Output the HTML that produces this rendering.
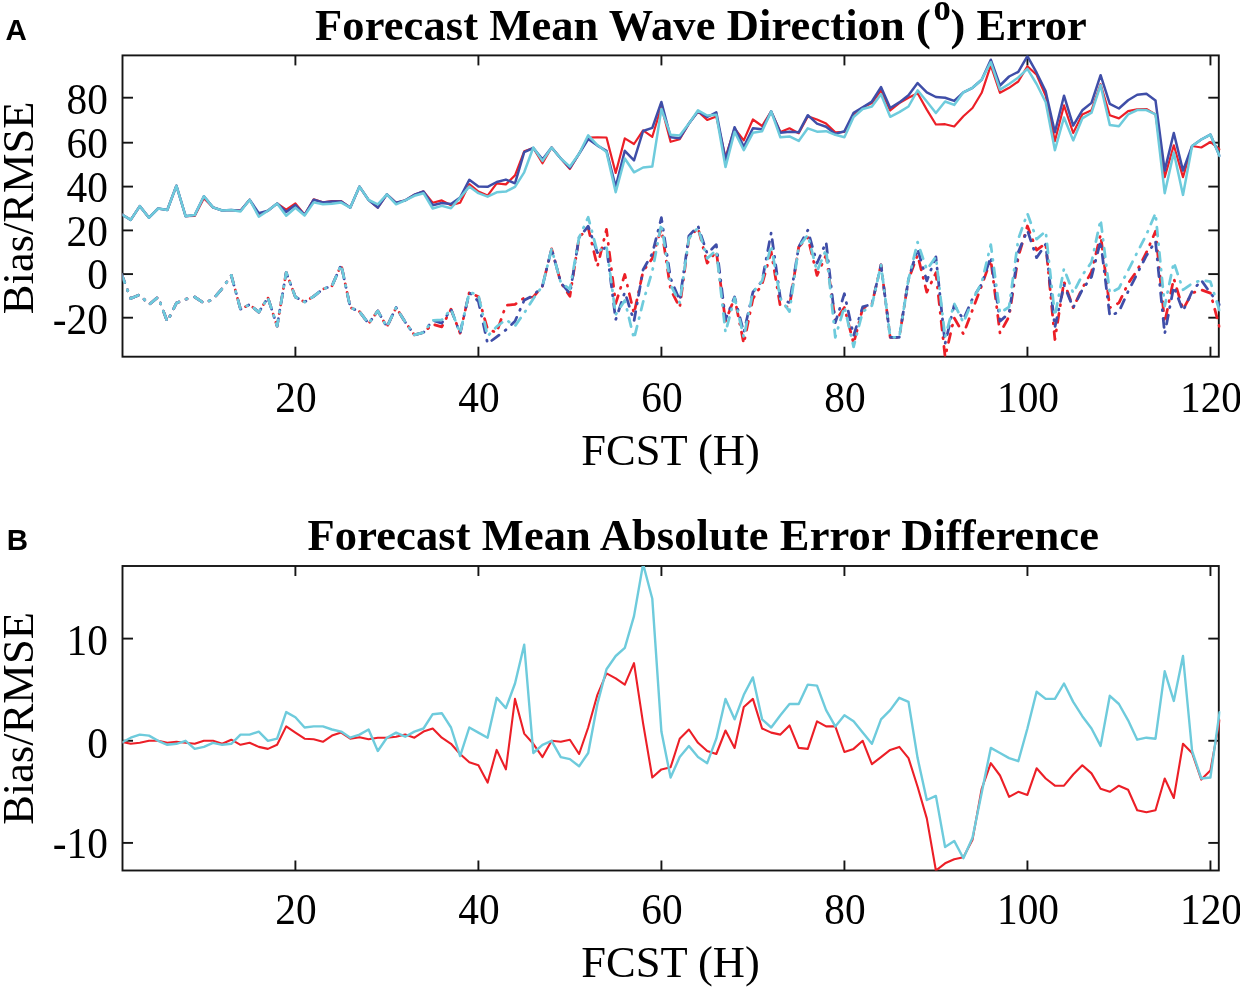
<!DOCTYPE html>
<html><head><meta charset="utf-8"><style>
html,body{margin:0;padding:0;background:#fff;width:1240px;height:988px;overflow:hidden}
svg{position:absolute;left:0;top:0;font-family:"Liberation Serif",serif;will-change:transform}
</style></head><body>
<svg width="1240" height="988" viewBox="0 0 1240 988">
<defs><clipPath id="ca"><rect x="122.5" y="55.4" width="1098" height="301.3"/></clipPath><clipPath id="cb"><rect x="122.5" y="566" width="1098" height="304.5"/></clipPath></defs>
<rect x="122.5" y="55.4" width="1096.3" height="301.3" fill="none" stroke="#151515" stroke-width="1.9"/>
<line x1="295.4" y1="356.7" x2="295.4" y2="346.7" stroke="#151515" stroke-width="1.9"/>
<line x1="295.4" y1="55.4" x2="295.4" y2="65.4" stroke="#151515" stroke-width="1.9"/>
<text transform="translate(296.0,412.4) scale(0.93,1)" font-size="44.5" text-anchor="middle">20</text>
<line x1="478.40999999999997" y1="356.7" x2="478.40999999999997" y2="346.7" stroke="#151515" stroke-width="1.9"/>
<line x1="478.40999999999997" y1="55.4" x2="478.40999999999997" y2="65.4" stroke="#151515" stroke-width="1.9"/>
<text transform="translate(479.0,412.4) scale(0.93,1)" font-size="44.5" text-anchor="middle">40</text>
<line x1="661.42" y1="356.7" x2="661.42" y2="346.7" stroke="#151515" stroke-width="1.9"/>
<line x1="661.42" y1="55.4" x2="661.42" y2="65.4" stroke="#151515" stroke-width="1.9"/>
<text transform="translate(662.0,412.4) scale(0.93,1)" font-size="44.5" text-anchor="middle">60</text>
<line x1="844.43" y1="356.7" x2="844.43" y2="346.7" stroke="#151515" stroke-width="1.9"/>
<line x1="844.43" y1="55.4" x2="844.43" y2="65.4" stroke="#151515" stroke-width="1.9"/>
<text transform="translate(845.0,412.4) scale(0.93,1)" font-size="44.5" text-anchor="middle">80</text>
<line x1="1027.44" y1="356.7" x2="1027.44" y2="346.7" stroke="#151515" stroke-width="1.9"/>
<line x1="1027.44" y1="55.4" x2="1027.44" y2="65.4" stroke="#151515" stroke-width="1.9"/>
<text transform="translate(1028.0,412.4) scale(0.93,1)" font-size="44.5" text-anchor="middle">100</text>
<line x1="1210.4499999999998" y1="356.7" x2="1210.4499999999998" y2="346.7" stroke="#151515" stroke-width="1.9"/>
<line x1="1210.4499999999998" y1="55.4" x2="1210.4499999999998" y2="65.4" stroke="#151515" stroke-width="1.9"/>
<text transform="translate(1211.0,412.4) scale(0.93,1)" font-size="44.5" text-anchor="middle">120</text>
<line x1="122.5" y1="97.7" x2="133.0" y2="97.7" stroke="#151515" stroke-width="1.9"/>
<line x1="1218.8" y1="97.7" x2="1208.3" y2="97.7" stroke="#151515" stroke-width="1.9"/>
<text transform="translate(108,114.3) scale(0.93,1)" font-size="44.5" text-anchor="end">80</text>
<line x1="122.5" y1="142.7" x2="133.0" y2="142.7" stroke="#151515" stroke-width="1.9"/>
<line x1="1218.8" y1="142.7" x2="1208.3" y2="142.7" stroke="#151515" stroke-width="1.9"/>
<text transform="translate(108,157.7) scale(0.93,1)" font-size="44.5" text-anchor="end">60</text>
<line x1="122.5" y1="186.6" x2="133.0" y2="186.6" stroke="#151515" stroke-width="1.9"/>
<line x1="1218.8" y1="186.6" x2="1208.3" y2="186.6" stroke="#151515" stroke-width="1.9"/>
<text transform="translate(108,201.5) scale(0.93,1)" font-size="44.5" text-anchor="end">40</text>
<line x1="122.5" y1="230.4" x2="133.0" y2="230.4" stroke="#151515" stroke-width="1.9"/>
<line x1="1218.8" y1="230.4" x2="1208.3" y2="230.4" stroke="#151515" stroke-width="1.9"/>
<text transform="translate(108,245.5) scale(0.93,1)" font-size="44.5" text-anchor="end">20</text>
<line x1="122.5" y1="274.1" x2="133.0" y2="274.1" stroke="#151515" stroke-width="1.9"/>
<line x1="1218.8" y1="274.1" x2="1208.3" y2="274.1" stroke="#151515" stroke-width="1.9"/>
<text transform="translate(108,288.9) scale(0.93,1)" font-size="44.5" text-anchor="end">0</text>
<line x1="122.5" y1="317.7" x2="133.0" y2="317.7" stroke="#151515" stroke-width="1.9"/>
<line x1="1218.8" y1="317.7" x2="1208.3" y2="317.7" stroke="#151515" stroke-width="1.9"/>
<text transform="translate(108,334) scale(0.93,1)" font-size="44.5" text-anchor="end">-20</text>
<text x="315" y="39.8" font-size="44.5" font-weight="bold" letter-spacing="0.1">Forecast Mean Wave Direction (</text>
<text x="5.6" y="40.2" font-family="Liberation Sans" font-size="29.5" font-weight="bold">A</text>
<text transform="translate(32.9,207.8) rotate(-90)" font-size="44.5" text-anchor="middle">Bias/RMSE</text>
<text x="670.5" y="465" font-size="44.5" text-anchor="middle">FCST (H)</text>
<text transform="translate(933.6,19.5) scale(0.96,1.06)" font-size="36" font-weight="bold">o</text>
<text x="950.5" y="39.8" font-size="44.5" font-weight="bold" letter-spacing="0">) Error</text>
<rect x="122.5" y="566.0" width="1096.3" height="304.5" fill="none" stroke="#151515" stroke-width="1.9"/>
<line x1="295.4" y1="870.5" x2="295.4" y2="860.5" stroke="#151515" stroke-width="1.9"/>
<line x1="295.4" y1="566.0" x2="295.4" y2="576.0" stroke="#151515" stroke-width="1.9"/>
<text transform="translate(296.0,924.4) scale(0.93,1)" font-size="44.5" text-anchor="middle">20</text>
<line x1="478.40999999999997" y1="870.5" x2="478.40999999999997" y2="860.5" stroke="#151515" stroke-width="1.9"/>
<line x1="478.40999999999997" y1="566.0" x2="478.40999999999997" y2="576.0" stroke="#151515" stroke-width="1.9"/>
<text transform="translate(479.0,924.4) scale(0.93,1)" font-size="44.5" text-anchor="middle">40</text>
<line x1="661.42" y1="870.5" x2="661.42" y2="860.5" stroke="#151515" stroke-width="1.9"/>
<line x1="661.42" y1="566.0" x2="661.42" y2="576.0" stroke="#151515" stroke-width="1.9"/>
<text transform="translate(662.0,924.4) scale(0.93,1)" font-size="44.5" text-anchor="middle">60</text>
<line x1="844.43" y1="870.5" x2="844.43" y2="860.5" stroke="#151515" stroke-width="1.9"/>
<line x1="844.43" y1="566.0" x2="844.43" y2="576.0" stroke="#151515" stroke-width="1.9"/>
<text transform="translate(845.0,924.4) scale(0.93,1)" font-size="44.5" text-anchor="middle">80</text>
<line x1="1027.44" y1="870.5" x2="1027.44" y2="860.5" stroke="#151515" stroke-width="1.9"/>
<line x1="1027.44" y1="566.0" x2="1027.44" y2="576.0" stroke="#151515" stroke-width="1.9"/>
<text transform="translate(1028.0,924.4) scale(0.93,1)" font-size="44.5" text-anchor="middle">100</text>
<line x1="1210.4499999999998" y1="870.5" x2="1210.4499999999998" y2="860.5" stroke="#151515" stroke-width="1.9"/>
<line x1="1210.4499999999998" y1="566.0" x2="1210.4499999999998" y2="576.0" stroke="#151515" stroke-width="1.9"/>
<text transform="translate(1211.0,924.4) scale(0.93,1)" font-size="44.5" text-anchor="middle">120</text>
<line x1="122.5" y1="638.6" x2="133.0" y2="638.6" stroke="#151515" stroke-width="1.9"/>
<line x1="1218.8" y1="638.6" x2="1208.3" y2="638.6" stroke="#151515" stroke-width="1.9"/>
<text transform="translate(108,655) scale(0.93,1)" font-size="44.5" text-anchor="end">10</text>
<line x1="122.5" y1="740.75" x2="133.0" y2="740.75" stroke="#151515" stroke-width="1.9"/>
<line x1="1218.8" y1="740.75" x2="1208.3" y2="740.75" stroke="#151515" stroke-width="1.9"/>
<text transform="translate(108,757.9) scale(0.93,1)" font-size="44.5" text-anchor="end">0</text>
<line x1="122.5" y1="842.9" x2="133.0" y2="842.9" stroke="#151515" stroke-width="1.9"/>
<line x1="1218.8" y1="842.9" x2="1208.3" y2="842.9" stroke="#151515" stroke-width="1.9"/>
<text transform="translate(108,858.4) scale(0.93,1)" font-size="44.5" text-anchor="end">-10</text>
<text x="307.5" y="550.3" font-size="44.5" font-weight="bold" letter-spacing="0.1">Forecast Mean Absolute Error Difference</text>
<text x="6.7" y="550.2" font-family="Liberation Sans" font-size="29.5" font-weight="bold">B</text>
<text transform="translate(32.9,718.5) rotate(-90)" font-size="44.5" text-anchor="middle">Bias/RMSE</text>
<text x="670.5" y="977" font-size="44.5" text-anchor="middle">FCST (H)</text>
<g clip-path="url(#ca)">
<polyline points="121.5,274.1 130.7,298.5 139.8,294.6 149.0,304.6 158.1,297.0 167.3,321.6 176.4,303.1 185.6,299.2 194.7,297.0 203.9,303.1 213.0,299.2 222.2,288.5 231.3,275.4" fill="none" stroke="#ec1f27" stroke-width="2.75" stroke-linejoin="round" stroke-linecap="round" stroke-dasharray="9.0 7.75 1.0 7.75" stroke-dashoffset="0.00"/>
<polyline points="231.3,275.4 240.5,309.2 249.6,304.6 258.8,312.2 267.9,297.6 277.1,326.2 286.2,272.4 295.4,297.0 304.6,302.0 313.7,296.3 322.9,289.1 332.0,285.9 341.2,264.9 350.3,307.5 359.5,311.6 368.6,323.6 377.8,310.9 386.9,326.9 396.1,307.5 405.2,322.1 414.4,334.9 423.5,332.5 432.7,324.2 441.8,326.9 451.0,309.2 460.1,333.2 469.3,292.4 478.4,296.8 487.6,329.3 496.7,332.5 505.9,305.3 515.0,304.4 524.2,297.9 533.3,297.0 542.5,285.9 551.6,248.8 560.8,282.6 569.9,296.3 579.1,237.4 588.2,227.8 597.4,266.5 606.5,229.3 615.7,303.5 624.8,274.5 634.0,313.6 643.1,271.3 652.3,258.4 661.4,228.2 670.6,289.4 679.7,307.5 688.9,238.3 698.0,227.8 707.2,263.2 716.3,251.2 725.5,321.2 734.6,297.9 743.8,343.6 752.9,298.7 762.1,284.1 771.2,251.8 780.4,306.8 789.5,306.8 798.7,247.0 807.8,237.4 817.0,275.4 826.1,255.1 835.3,321.2 844.4,307.5 853.6,343.6 862.7,308.3 871.9,304.2 881.0,264.9 890.2,337.3 899.3,337.3 908.5,279.3 917.6,255.1 926.8,292.2 935.9,272.8 945.1,356.9 954.2,317.9 963.4,334.0 972.5,309.9 981.7,285.7 990.8,259.9 1000.0,333.2 1009.1,316.4 1018.3,256.8 1027.4,226.0 1036.6,250.1 1045.7,243.5 1054.9,339.5 1064.0,281.7 1073.2,307.7 1082.3,288.3 1091.5,271.9 1100.6,234.6 1109.8,307.7 1118.9,302.9 1128.1,283.5 1137.2,270.4 1146.4,252.5 1155.5,231.3 1164.7,322.5 1173.8,278.5 1183.0,309.4 1192.1,293.1 1201.3,289.8 1210.4,293.1 1219.6,327.3" fill="none" stroke="#ec1f27" stroke-width="2.75" stroke-linejoin="round" stroke-linecap="round" stroke-dasharray="9.0 7.75 1.0 7.75" stroke-dashoffset="1.61"/>
<polyline points="121.5,274.1 130.7,298.5 139.8,294.6 149.0,304.6 158.1,297.0 167.3,321.6 176.4,303.1 185.6,299.2 194.7,297.0 203.9,303.1 213.0,299.2 222.2,288.5 231.3,275.4" fill="none" stroke="#3f4ea8" stroke-width="2.75" stroke-linejoin="round" stroke-linecap="round" stroke-dasharray="9.0 7.75 1.0 7.75" stroke-dashoffset="0.00"/>
<polyline points="231.3,275.4 240.5,309.2 249.6,304.6 258.8,312.2 267.9,297.6 277.1,326.2 286.2,272.4 295.4,297.0 304.6,302.0 313.7,296.3 322.9,289.1 332.0,285.9 341.2,264.9 350.3,307.5 359.5,311.6 368.6,323.6 377.8,310.9 386.9,326.9 396.1,307.5 405.2,322.1 414.4,334.9 423.5,332.5 432.7,320.3 441.8,323.1 451.0,309.2 460.1,333.2 469.3,292.4 478.4,301.4 487.6,343.6 496.7,336.9 505.9,329.9 515.0,321.2 524.2,300.3 533.3,295.5 542.5,285.9 551.6,248.8 560.8,282.6 569.9,293.7 579.1,237.4 588.2,226.2 597.4,252.7 606.5,247.0 615.7,319.7 624.8,292.2 634.0,321.2 643.1,269.7 652.3,253.6 661.4,217.7 670.6,278.5 679.7,300.3 688.9,235.9 698.0,226.0 707.2,253.6 716.3,244.6 725.5,319.4 734.6,297.0 743.8,332.5 752.9,292.2 762.1,280.9 771.2,232.6 780.4,298.7 789.5,302.7 798.7,247.0 807.8,230.2 817.0,263.2 826.1,242.2 835.3,322.7 844.4,293.7 853.6,335.6 862.7,306.8 871.9,304.2 881.0,264.9 890.2,337.3 899.3,337.3 908.5,279.3 917.6,248.8 926.8,280.9 935.9,256.8 945.1,343.6 954.2,305.1 963.4,319.4 972.5,298.7 981.7,284.1 990.8,256.8 1000.0,321.2 1009.1,313.1 1018.3,252.0 1027.4,230.4 1036.6,257.7 1045.7,244.2 1054.9,327.3 1064.0,285.0 1073.2,307.7 1082.3,289.8 1091.5,276.9 1100.6,241.1 1109.8,316.0 1118.9,311.8 1128.1,291.5 1137.2,273.7 1146.4,255.7 1155.5,241.1 1164.7,333.8 1173.8,286.5 1183.0,310.9 1192.1,291.5 1201.3,280.2 1210.4,293.1 1219.6,304.6" fill="none" stroke="#3f4ea8" stroke-width="2.75" stroke-linejoin="round" stroke-linecap="round" stroke-dasharray="9.0 7.75 1.0 7.75" stroke-dashoffset="24.51"/>
<polyline points="121.5,274.1 130.7,298.5 139.8,294.6 149.0,304.6 158.1,297.0 167.3,321.6 176.4,303.1 185.6,299.2 194.7,297.0 203.9,303.1 213.0,299.2 222.2,288.5 231.3,275.4" fill="none" stroke="#6ecbdc" stroke-width="2.75" stroke-linejoin="round" stroke-linecap="round" stroke-dasharray="9.0 7.75 1.0 7.75" stroke-dashoffset="0.00"/>
<polyline points="231.3,275.4 240.5,309.2 249.6,304.6 258.8,312.2 267.9,297.6 277.1,326.2 286.2,272.4 295.4,297.0 304.6,302.0 313.7,296.3 322.9,289.1 332.0,285.9 341.2,264.9 350.3,307.5 359.5,311.6 368.6,323.6 377.8,310.9 386.9,326.9 396.1,307.5 405.2,322.1 414.4,334.9 423.5,332.5 432.7,320.3 441.8,319.9 451.0,309.2 460.1,333.2 469.3,292.4 478.4,294.8 487.6,336.2 496.7,326.6 505.9,319.7 515.0,326.0 524.2,313.1 533.3,298.7 542.5,285.9 551.6,248.8 560.8,282.6 569.9,289.1 579.1,237.4 588.2,217.3 597.4,252.0 606.5,246.4 615.7,314.6 624.8,300.5 634.0,338.8 643.1,302.0 652.3,271.3 661.4,223.8 670.6,285.0 679.7,302.7 688.9,238.3 698.0,227.8 707.2,258.4 716.3,250.3 725.5,332.3 734.6,297.9 743.8,337.3 752.9,292.2 762.1,280.9 771.2,245.5 780.4,298.7 789.5,311.6 798.7,247.0 807.8,235.0 817.0,271.3 826.1,249.4 835.3,337.3 844.4,306.8 853.6,346.9 862.7,311.6 871.9,305.7 881.0,264.9 890.2,337.3 899.3,337.3 908.5,279.3 917.6,242.2 926.8,269.7 935.9,256.8 945.1,337.3 954.2,303.5 963.4,322.7 972.5,300.3 981.7,282.6 990.8,244.6 1000.0,313.1 1009.1,306.8 1018.3,238.9 1027.4,213.5 1036.6,239.1 1045.7,231.3 1054.9,316.0 1064.0,268.6 1073.2,293.1 1082.3,275.2 1091.5,262.3 1100.6,219.7 1109.8,293.1 1118.9,288.3 1128.1,270.4 1137.2,252.5 1146.4,234.6 1155.5,213.3 1164.7,306.1 1173.8,262.3 1183.0,289.8 1192.1,283.5 1201.3,280.2 1210.4,281.7 1219.6,310.9" fill="none" stroke="#6ecbdc" stroke-width="2.75" stroke-linejoin="round" stroke-linecap="round" stroke-dasharray="9.0 7.75 1.0 7.75" stroke-dashoffset="0.31"/>
<polyline points="121.5,214.2 130.7,219.9 139.8,206.1 149.0,217.7 158.1,208.5 167.3,210.0 176.4,185.7 185.6,216.2 194.7,215.9 203.9,198.2 213.0,207.4 222.2,210.5 231.3,210.0 240.5,210.7 249.6,199.7 258.8,215.1 267.9,210.7 277.1,203.5 286.2,209.6 295.4,203.5 304.6,214.6 313.7,199.3 322.9,202.4 332.0,201.1 341.2,201.1 350.3,207.6 359.5,186.6 368.6,200.0 377.8,207.6 386.9,194.3 396.1,202.8 405.2,200.4 414.4,194.7 423.5,191.4 432.7,202.8 441.8,200.4 451.0,205.2 460.1,202.8 469.3,184.2 478.4,191.6 487.6,195.6 496.7,183.3 505.9,184.4 515.0,175.4 524.2,151.3 533.3,148.0 542.5,163.3 551.6,147.5 560.8,158.5 569.9,169.0 579.1,153.7 588.2,137.5 597.4,137.3 606.5,137.5 615.7,173.0 624.8,138.4 634.0,144.0 643.1,130.3 652.3,136.8 661.4,106.7 670.6,141.8 679.7,139.3 688.9,123.6 698.0,111.4 707.2,120.0 716.3,116.4 725.5,157.4 734.6,128.3 743.8,140.4 752.9,119.5 762.1,126.0 771.2,111.4 780.4,131.9 789.5,128.3 798.7,133.2 807.8,116.4 817.0,119.5 826.1,123.6 835.3,132.3 844.4,131.9 853.6,114.4 862.7,107.4 871.9,103.1 881.0,90.3 890.2,110.5 899.3,103.1 908.5,97.7 917.6,93.2 926.8,109.6 935.9,124.5 945.1,124.2 954.2,126.5 963.4,116.2 972.5,108.0 981.7,92.8 990.8,65.3 1000.0,92.8 1009.1,87.8 1018.3,81.5 1027.4,66.2 1036.6,74.8 1045.7,95.7 1054.9,141.1 1064.0,105.4 1073.2,133.0 1082.3,114.4 1091.5,110.3 1100.6,84.2 1109.8,115.2 1118.9,118.4 1128.1,111.2 1137.2,109.4 1146.4,109.0 1155.5,114.4 1164.7,177.2 1173.8,145.3 1183.0,177.2 1192.1,146.0 1201.3,147.5 1210.4,142.0 1219.6,149.3" fill="none" stroke="#ec1f27" stroke-width="2.2" stroke-linejoin="round" stroke-linecap="round"/>
<polyline points="121.5,214.2 130.7,219.9 139.8,206.1 149.0,217.7 158.1,208.5 167.3,210.0 176.4,185.7 185.6,216.2 194.7,215.1 203.9,196.2 213.0,207.4 222.2,210.5 231.3,210.0 240.5,210.7 249.6,199.7 258.8,213.1 267.9,210.7 277.1,203.5 286.2,212.0 295.4,205.0 304.6,214.9 313.7,199.7 322.9,202.4 332.0,201.5 341.2,201.5 350.3,207.6 359.5,186.6 368.6,200.0 377.8,207.6 386.9,194.3 396.1,202.8 405.2,200.4 414.4,194.7 423.5,191.4 432.7,205.2 441.8,203.0 451.0,204.1 460.1,197.6 469.3,179.8 478.4,186.6 487.6,186.8 496.7,182.0 505.9,179.6 515.0,183.3 524.2,152.1 533.3,148.0 542.5,159.4 551.6,147.5 560.8,158.5 569.9,167.9 579.1,153.7 588.2,139.1 597.4,145.6 606.5,150.8 615.7,186.8 624.8,150.8 634.0,160.3 643.1,131.0 652.3,127.9 661.4,102.0 670.6,137.3 679.7,138.2 688.9,123.6 698.0,111.4 707.2,117.0 716.3,112.3 725.5,159.8 734.6,127.2 743.8,146.9 752.9,128.3 762.1,129.2 771.2,111.4 780.4,132.8 789.5,131.7 798.7,132.3 807.8,115.2 817.0,123.6 826.1,126.7 835.3,133.9 844.4,131.2 853.6,112.8 862.7,107.4 871.9,101.5 881.0,87.1 890.2,108.0 899.3,102.4 908.5,95.2 917.6,83.1 926.8,92.3 935.9,97.0 945.1,97.7 954.2,100.9 963.4,92.3 972.5,87.8 981.7,79.7 990.8,59.7 1000.0,85.5 1009.1,76.5 1018.3,71.8 1027.4,56.1 1036.6,72.7 1045.7,91.4 1054.9,132.3 1064.0,95.7 1073.2,125.6 1082.3,110.3 1091.5,102.9 1100.6,75.2 1109.8,103.8 1118.9,108.5 1128.1,100.2 1137.2,94.8 1146.4,93.7 1155.5,100.4 1164.7,170.6 1173.8,133.0 1183.0,170.6 1192.1,146.0 1201.3,139.5 1210.4,134.6 1219.6,155.9" fill="none" stroke="#3f4ea8" stroke-width="2.5" stroke-linejoin="round" stroke-linecap="round"/>
<polyline points="121.5,214.2 130.7,219.9 139.8,206.1 149.0,217.7 158.1,208.5 167.3,210.0 176.4,185.7 185.6,216.2 194.7,215.1 203.9,196.2 213.0,207.4 222.2,210.5 231.3,210.0 240.5,211.6 249.6,199.7 258.8,216.6 267.9,210.7 277.1,203.5 286.2,215.7 295.4,207.8 304.6,215.5 313.7,202.4 322.9,204.3 332.0,203.7 341.2,202.6 350.3,207.6 359.5,186.6 368.6,200.0 377.8,204.3 386.9,194.3 396.1,204.3 405.2,200.4 414.4,195.8 423.5,193.2 432.7,208.5 441.8,205.9 451.0,208.3 460.1,197.6 469.3,186.6 478.4,193.2 487.6,196.7 496.7,192.3 505.9,191.6 515.0,186.8 524.2,172.3 533.3,147.5 542.5,160.9 551.6,147.5 560.8,158.5 569.9,166.6 579.1,153.7 588.2,135.3 597.4,145.1 606.5,152.1 615.7,192.3 624.8,158.5 634.0,172.3 643.1,167.5 652.3,166.6 661.4,109.0 670.6,134.8 679.7,135.5 688.9,123.6 698.0,110.3 707.2,115.5 716.3,114.8 725.5,167.1 734.6,131.7 743.8,150.2 752.9,132.8 762.1,131.2 771.2,111.4 780.4,137.3 789.5,136.4 798.7,140.9 807.8,128.3 817.0,131.7 826.1,131.2 835.3,134.8 844.4,137.3 853.6,117.0 862.7,109.0 871.9,106.5 881.0,94.3 890.2,116.8 899.3,112.1 908.5,106.5 917.6,90.3 926.8,101.5 935.9,113.0 945.1,101.5 954.2,104.9 963.4,92.3 972.5,87.8 981.7,79.7 990.8,62.2 1000.0,89.6 1009.1,84.0 1018.3,77.5 1027.4,68.9 1036.6,84.0 1045.7,102.2 1054.9,150.2 1064.0,117.5 1073.2,140.4 1082.3,118.4 1091.5,112.8 1100.6,85.1 1109.8,124.9 1118.9,126.3 1128.1,114.4 1137.2,110.1 1146.4,110.1 1155.5,114.4 1164.7,193.2 1173.8,152.6 1183.0,194.9 1192.1,146.0 1201.3,139.5 1210.4,134.6 1219.6,155.9" fill="none" stroke="#6ecbdc" stroke-width="2.5" stroke-linejoin="round" stroke-linecap="round"/>
</g><g clip-path="url(#cb)">
<polyline points="121.5,741.8 130.7,743.8 139.8,742.8 149.0,740.8 158.1,740.8 167.3,742.8 176.4,741.8 185.6,742.8 194.7,743.8 203.9,740.8 213.0,740.8 222.2,743.8 231.3,739.7 240.5,744.8 249.6,742.8 258.8,746.9 267.9,748.9 277.1,744.8 286.2,726.4 295.4,732.6 304.6,738.7 313.7,739.2 322.9,741.8 332.0,735.6 341.2,732.6 350.3,738.7 359.5,737.2 368.6,739.2 377.8,737.7 386.9,737.7 396.1,736.7 405.2,734.6 414.4,737.7 423.5,731.6 432.7,728.5 441.8,737.7 451.0,743.8 460.1,754.0 469.3,762.2 478.4,765.3 487.6,782.6 496.7,749.9 505.9,769.4 515.0,698.9 524.2,733.6 533.3,743.8 542.5,757.1 551.6,740.8 560.8,741.8 569.9,739.7 579.1,754.0 588.2,727.5 597.4,694.8 606.5,673.3 615.7,678.4 624.8,684.6 634.0,663.1 643.1,723.4 652.3,777.5 661.4,769.4 670.6,767.3 679.7,738.7 688.9,729.5 698.0,742.8 707.2,751.0 716.3,754.0 725.5,730.5 734.6,747.9 743.8,707.0 752.9,698.9 762.1,728.5 771.2,732.6 780.4,734.6 789.5,725.4 798.7,747.9 807.8,748.9 817.0,721.3 826.1,726.4 835.3,726.4 844.4,752.0 853.6,748.9 862.7,740.8 871.9,764.2 881.0,757.1 890.2,749.9 899.3,746.9 908.5,758.1 917.6,786.7 926.8,818.4 935.9,870.5 945.1,863.3 954.2,859.2 963.4,857.2 972.5,839.8 981.7,788.8 990.8,763.2 1000.0,775.5 1009.1,796.9 1018.3,791.8 1027.4,794.9 1036.6,768.3 1045.7,778.5 1054.9,785.7 1064.0,785.7 1073.2,774.5 1082.3,765.3 1091.5,773.4 1100.6,788.8 1109.8,791.8 1118.9,785.7 1128.1,789.8 1137.2,810.2 1146.4,812.3 1155.5,810.2 1164.7,778.5 1173.8,798.0 1183.0,743.8 1192.1,753.0 1201.3,779.6 1210.4,770.4 1219.6,720.3" fill="none" stroke="#ec1f27" stroke-width="2.1" stroke-linejoin="round" stroke-linecap="round"/>
<polyline points="121.5,742.8 130.7,737.7 139.8,734.6 149.0,735.6 158.1,740.8 167.3,744.8 176.4,743.8 185.6,740.8 194.7,748.9 203.9,746.9 213.0,742.8 222.2,744.8 231.3,743.8 240.5,734.6 249.6,734.6 258.8,731.6 267.9,740.8 277.1,738.7 286.2,712.1 295.4,717.3 304.6,727.5 313.7,726.4 322.9,726.4 332.0,729.5 341.2,731.6 350.3,737.7 359.5,734.6 368.6,729.5 377.8,751.0 386.9,737.7 396.1,732.6 405.2,736.7 414.4,731.6 423.5,728.5 432.7,714.2 441.8,713.2 451.0,727.5 460.1,756.1 469.3,727.5 478.4,732.6 487.6,737.7 496.7,697.8 505.9,708.1 515.0,683.5 524.2,644.7 533.3,753.0 542.5,744.8 551.6,740.8 560.8,757.1 569.9,759.1 579.1,766.3 588.2,753.0 597.4,704.0 606.5,669.2 615.7,656.0 624.8,647.8 634.0,616.1 643.1,564.0 652.3,598.8 661.4,731.6 670.6,777.5 679.7,757.1 688.9,745.9 698.0,757.1 707.2,763.2 716.3,738.7 725.5,698.9 734.6,719.3 743.8,694.8 752.9,677.4 762.1,719.3 771.2,727.5 780.4,715.2 789.5,704.0 798.7,704.0 807.8,684.6 817.0,685.6 826.1,710.1 835.3,726.4 844.4,715.2 853.6,721.3 862.7,732.6 871.9,743.8 881.0,719.3 890.2,710.1 899.3,697.8 908.5,701.9 917.6,758.1 926.8,800.0 935.9,795.9 945.1,847.0 954.2,840.9 963.4,858.2 972.5,837.8 981.7,792.8 990.8,747.9 1000.0,753.0 1009.1,758.1 1018.3,761.2 1027.4,728.5 1036.6,691.7 1045.7,698.9 1054.9,698.9 1064.0,683.5 1073.2,701.9 1082.3,716.2 1091.5,728.5 1100.6,745.9 1109.8,695.8 1118.9,704.0 1128.1,720.3 1137.2,739.7 1146.4,737.7 1155.5,738.7 1164.7,671.3 1173.8,700.9 1183.0,656.0 1192.1,751.0 1201.3,778.5 1210.4,777.5 1219.6,712.1" fill="none" stroke="#6ecbdc" stroke-width="2.4" stroke-linejoin="round" stroke-linecap="round"/>
</g>
</svg>
</body></html>
